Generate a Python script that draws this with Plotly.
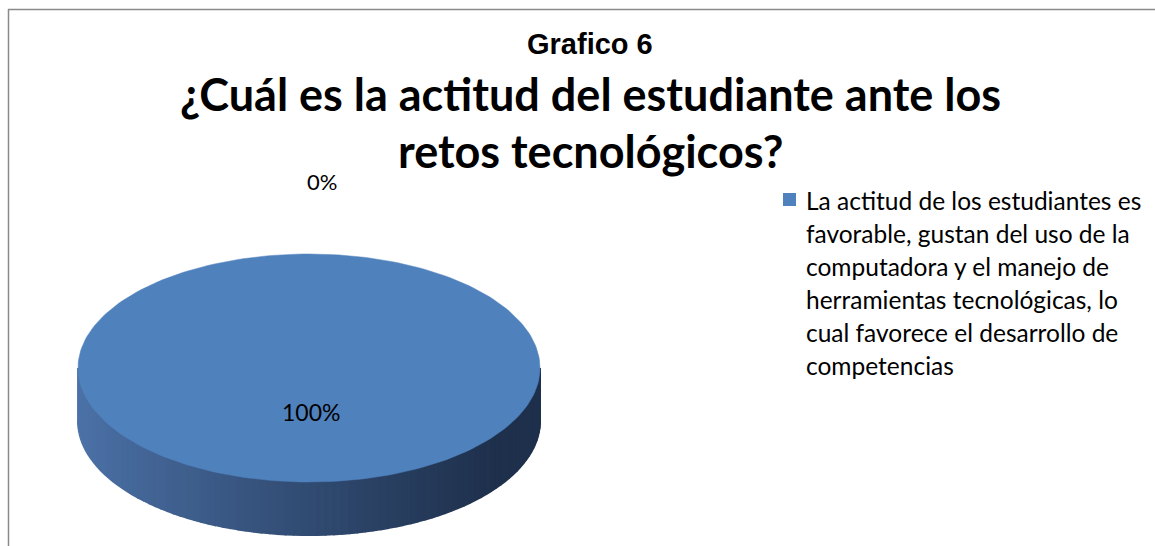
import numpy as np
import plotly.graph_objects as go

# ---- data ----
categories = [
    "La actitud de los estudiantes es favorable, gustan del uso de la computadora y el manejo de herramientas tecnológicas, lo cual favorece el desarrollo de competencias",
    "Otra",
]
values = [100, 0]
value_labels = ["100%", "0%"]
legend_lines = [
    "La actitud de los estudiantes es",
    "favorable, gustan del uso de la",
    "computadora y el manejo de",
    "herramientas tecnológicas, lo",
    "cual favorece el desarrollo de",
    "competencias",
]
chart_title = "Grafico 6"
chart_subtitle = ["¿Cuál es la actitud del estudiante ante los", "retos tecnológicos?"]

W, H = 1155, 546
cx, cy, a, b, depth = 309, 368, 231, 114, 53
top_color = "#4F81BD"
side_left = np.array([76, 114, 168])
side_right = np.array([30, 48, 76])

fig = go.Figure()

total = sum(values)
fracs = [v / total for v in values]

# side band (gradient strips) for the visible lower half of the pie
N = 90
ts = np.linspace(np.pi, 0, N + 1)
for k in range(N):
    t = np.linspace(ts[k], ts[k + 1], 4)
    xs = cx + a * np.cos(t)
    ys = cy + b * np.sin(t)
    px = np.concatenate([xs, xs[::-1]])
    py = np.concatenate([ys, ys[::-1] + depth])
    xm = (xs.mean() - (cx - a)) / (2 * a)
    f = min(1.0, xm ** 0.9 * 1.1)
    col = side_left + (side_right - side_left) * f
    c = "rgb(%d,%d,%d)" % tuple(col.round().astype(int))
    fig.add_trace(go.Scatter(x=px, y=py, mode="lines", fill="toself",
                             fillcolor=c, line=dict(width=2, color=c),
                             hoverinfo="skip", showlegend=False))

# top face slices from values (clockwise from the top)
start = 0.0
label_pos = []
for v, fr in zip(values, fracs):
    ang0 = start * 2 * np.pi
    ang1 = (start + fr) * 2 * np.pi
    if fr > 0:
        th = np.linspace(ang0, ang1, 240)
        xs = cx + a * np.sin(th)
        ys = cy - b * np.cos(th)
        if fr < 1:
            xs = np.concatenate([[cx], xs, [cx]])
            ys = np.concatenate([[cy], ys, [cy]])
        fig.add_trace(go.Scatter(x=xs, y=ys, mode="lines", fill="toself",
                                 fillcolor=top_color, line=dict(width=0.5, color=top_color),
                                 hoverinfo="skip", showlegend=False))
        label_pos.append((cx + 2, cy + depth * 0.83, 23))
    else:
        th = ang0
        label_pos.append((cx + (a + 75) * np.sin(th) + 13, cy - (b + 73) * np.cos(th), 22))
    start += fr

for lab, (lx, ly, fs) in zip(value_labels, label_pos):
    fig.add_annotation(x=lx, y=ly, text=lab, showarrow=False,
                       font=dict(family="Lato, Carlito, Calibri, sans-serif", size=fs, color="black"),
                       xanchor="center", yanchor="middle")

# titles
fig.add_annotation(x=590, y=44, text="<b>%s</b>" % chart_title, showarrow=False,
                   font=dict(family="Liberation Sans, Arial", size=29, color="black"),
                   xanchor="center", yanchor="middle")
for i, line in enumerate(chart_subtitle):
    fig.add_annotation(x=590, y=94 + 57 * i, text="<b>%s</b>" % line, showarrow=False,
                       font=dict(family="Lato, Calibri, sans-serif", size=45, color="black"),
                       xanchor="center", yanchor="middle")

# legend
fig.add_shape(type="rect", x0=783, x1=796, y0=193, y1=206,
              fillcolor=top_color, line=dict(width=0))
for i, line in enumerate(legend_lines):
    fig.add_annotation(x=804, y=200 + 33 * i, text=line, showarrow=False,
                       font=dict(family="Lato, Calibri, sans-serif", size=24.5, color="black"),
                       xanchor="left", yanchor="middle")

# border
fig.add_shape(type="line", x0=8, x1=W, y0=9.5, y1=9.5, line=dict(color="#8a8a8a", width=1.5))
fig.add_shape(type="line", x0=8.5, x1=8.5, y0=9, y1=H, line=dict(color="#8a8a8a", width=1.5))

fig.update_layout(
    width=W, height=H,
    margin=dict(l=0, r=0, t=0, b=0),
    paper_bgcolor="white", plot_bgcolor="white",
    xaxis=dict(range=[0, W], visible=False, fixedrange=True),
    yaxis=dict(range=[H, 0], visible=False, fixedrange=True),
    showlegend=False,
)
fig.write_html("out.html", config={"displayModeBar": False},
               post_script="document.body.style.margin='0';document.body.style.overflow='hidden';")
